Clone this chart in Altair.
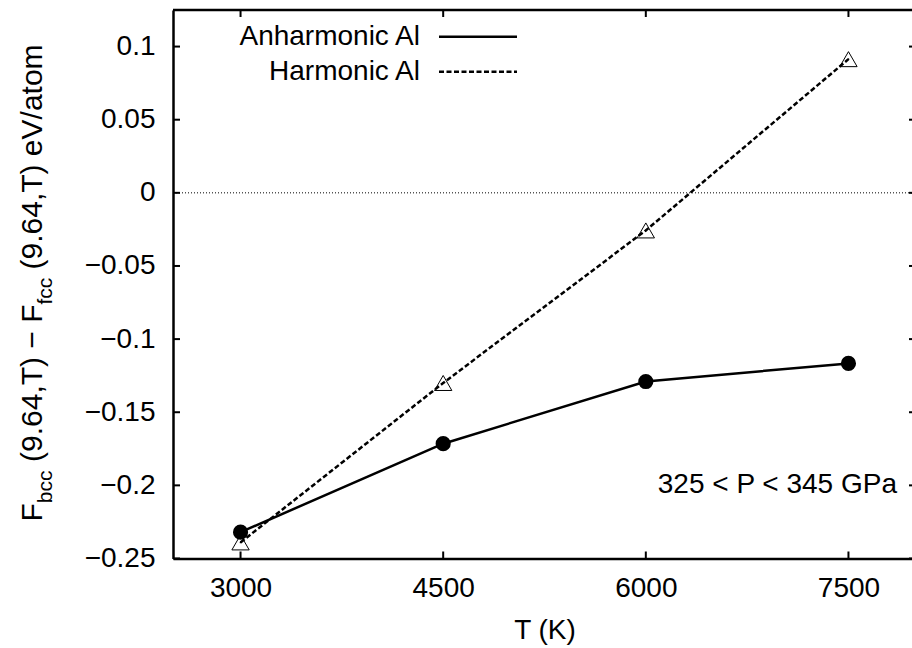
import altair as alt
import pandas as pd

# Temperatures (K) and free-energy differences F_bcc - F_fcc (eV/atom)
temps = [3000, 4500, 6000, 7500]
anharmonic = [-0.232, -0.1715, -0.129, -0.1166]
harmonic = [-0.239, -0.130, -0.0257, 0.0914]

x_ticks = [3000, 4500, 6000, 7500]
y_ticks = [-0.25, -0.2, -0.15, -0.1, -0.05, 0, 0.05, 0.1]

series_names = ["Anharmonic Al", "Harmonic Al"]
pressure_note = "325 < P < 345 GPa"

FONT = "Liberation Sans"
FS = 28

# plot box geometry (the frame runs slightly past the right edge of the page)
H = 548.5
W_VIEW = 739
W_FRAME = 743

x_scale = alt.Scale(domain=[2500, 8000], range=[0, W_FRAME], nice=False, zero=False)
y_scale = alt.Scale(domain=[-0.25, 0.125], nice=False, zero=False)

anh_df = pd.DataFrame({"T": temps, "F": anharmonic})
har_df = pd.DataFrame({"T": temps, "F": harmonic})
xt_df = pd.DataFrame({"T": x_ticks})
yt_df = pd.DataFrame({"F": y_ticks})
zero_df = pd.DataFrame({"F": [0.0]})
one_df = pd.DataFrame({"k": [0]})

x_axis = alt.Axis(
    values=x_ticks, format="d", ticks=False, grid=False,
    domainColor="black", domainWidth=2.5,
    labelFont=FONT, labelFontSize=FS, labelColor="black", labelPadding=16,
    title="T (K)", titleFont=FONT, titleFontSize=FS, titleFontWeight="normal",
    titleColor="black", titlePadding=14,
)
y_axis = alt.Axis(
    values=y_ticks, format=".2~f", ticks=False, grid=False,
    domainColor="black", domainWidth=2.5,
    labelFont=FONT, labelFontSize=FS, labelColor="black", labelPadding=18,
    title=None,
)


def X():
    return alt.X("T:Q", scale=x_scale, axis=x_axis)


def Y():
    return alt.Y("F:Q", scale=y_scale, axis=y_axis)


zero_line = alt.Chart(zero_df).mark_rule(
    color="black", strokeWidth=1, strokeDash=[1, 2]
).encode(y=Y(), x=alt.value(0), x2=alt.value(W_FRAME))

har_line = alt.Chart(har_df).mark_line(
    color="black", strokeWidth=2.5, strokeDash=[5, 2.5]
).encode(x=X(), y=Y())

anh_line = alt.Chart(anh_df).mark_line(color="black", strokeWidth=2.5).encode(x=X(), y=Y())

har_pts = alt.Chart(har_df).mark_point(
    shape="triangle-up", filled=False, size=300, color="black", strokeWidth=1, opacity=1
).encode(x=X(), y=Y())
har_dots = alt.Chart(har_df).mark_point(
    shape="circle", filled=True, size=3, color="black", opacity=1
).encode(x=X(), y=Y())

anh_pts = alt.Chart(anh_df).mark_point(
    shape="circle", filled=True, size=230, color="black", opacity=1
).encode(x=X(), y=Y())

# inward tick marks on all four sides
tick_w = 2
bottom_ticks = alt.Chart(xt_df).mark_rule(color="black", strokeWidth=tick_w).encode(
    x=X(), y=alt.value(H), y2=alt.value(H - 7)
)
top_ticks = alt.Chart(xt_df).mark_rule(color="black", strokeWidth=tick_w).encode(
    x=X(), y=alt.value(0), y2=alt.value(7)
)
left_ticks = alt.Chart(yt_df).mark_rule(color="black", strokeWidth=tick_w).encode(
    y=Y(), x=alt.value(0), x2=alt.value(7)
)
right_ticks = alt.Chart(yt_df).mark_rule(color="black", strokeWidth=tick_w).encode(
    y=Y(), x=alt.value(W_FRAME - 7), x2=alt.value(W_FRAME)
)
top_border = alt.Chart(one_df).mark_rule(color="black", strokeWidth=2.5).encode(
    x=alt.value(0), x2=alt.value(W_FRAME), y=alt.value(0)
)


def label(txt, x, y, size=FS, align="right", baseline="middle", angle=0):
    return alt.Chart(one_df).mark_text(
        align=align, baseline=baseline, font=FONT, fontSize=size,
        color="black", angle=angle,
    ).encode(text=alt.value(txt), x=alt.value(x), y=alt.value(y))


# key: labels with line samples
key_layers = [
    label(series_names[0], 247, 26.7),
    label(series_names[1], 247, 61.7),
    alt.Chart(one_df).mark_rule(color="black", strokeWidth=2.5).encode(
        x=alt.value(266), x2=alt.value(344), y=alt.value(26.7)
    ),
    alt.Chart(one_df).mark_rule(
        color="black", strokeWidth=2.5, strokeDash=[5, 2.5]
    ).encode(x=alt.value(266), x2=alt.value(344), y=alt.value(61.7)),
]

note = alt.Chart(pd.DataFrame({"F": [-0.2]})).mark_text(
    align="right", baseline="middle", font=FONT, fontSize=FS, color="black"
).encode(text=alt.value(pressure_note), x=alt.value(724), y=Y())

# rotated y title with subscripts, pieces reading bottom to top
title_pieces = [
    ("F", 511.5, -131, 30),
    ("bcc", 493.2, -121, 21),
    ("(9.64,T) \u2212 F", 452.0, -131, 30),
    ("fcc", 294.5, -121, 21),
    ("(9.64,T) eV/atom", 259.5, -131, 30),
]
title_layers = [
    label(t, px, py, size=fs, align="left", baseline="alphabetic", angle=270)
    for t, py, px, fs in title_pieces
]

chart = alt.layer(
    zero_line, har_line, anh_line, har_pts, har_dots, anh_pts,
    bottom_ticks, top_ticks, left_ticks, right_ticks, top_border,
    *key_layers, note, *title_layers,
).properties(
    width=W_VIEW, height=H,
    autosize=alt.AutoSizeParams(type="none"),
    padding={"left": 173, "top": 10, "right": 0, "bottom": 89.5},
    background="white",
).configure_view(stroke=None)

chart.save("out.html", embed_options={"renderer": "svg", "actions": False})
